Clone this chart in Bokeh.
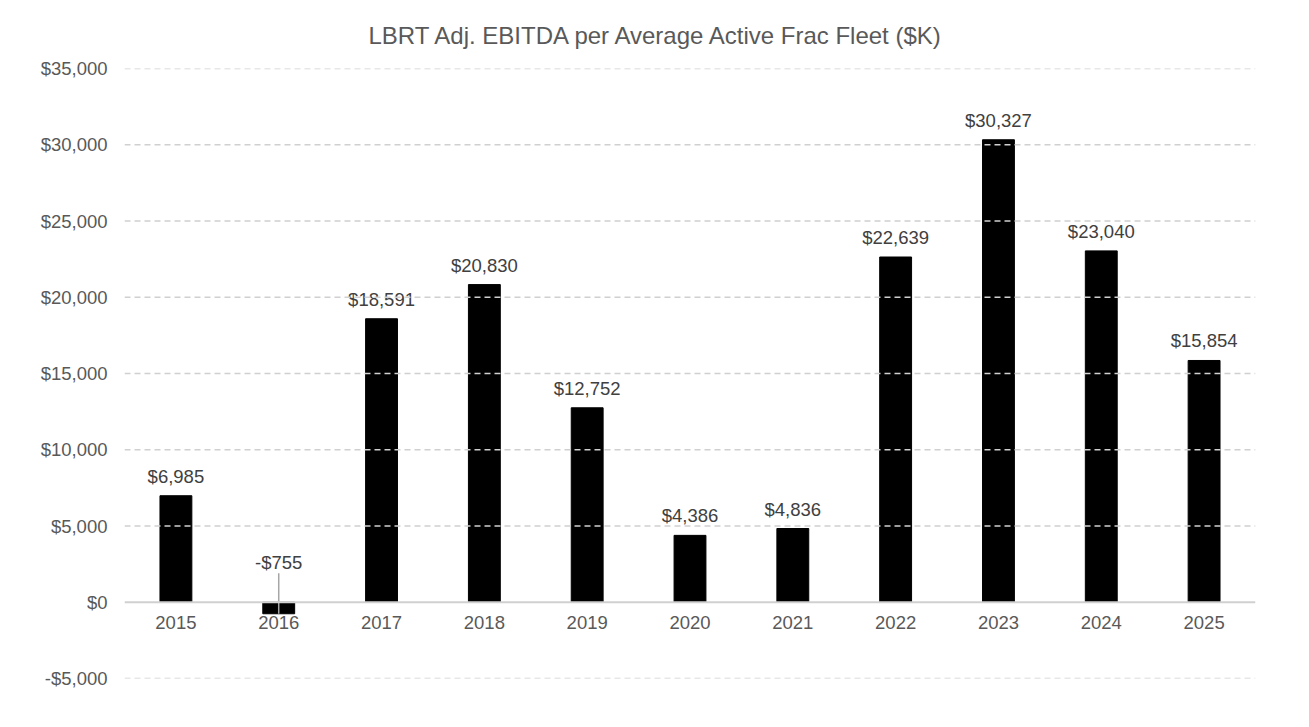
from bokeh.plotting import figure
from bokeh.models import ColumnDataSource, FactorRange, Range1d, Span, FixedTicker, CustomJSTickFormatter
from bokeh.core.properties import value
from bokeh.embed import file_html
from bokeh.resources import INLINE

years = ["2015", "2016", "2017", "2018", "2019", "2020", "2021", "2022", "2023", "2024", "2025"]
ebitda = [6985, -755, 18591, 20830, 12752, 4386, 4836, 22639, 30327, 23040, 15854]
y_ticks = [-5000, 0, 5000, 10000, 15000, 20000, 25000, 30000, 35000]

FONT = "Liberation Sans"
GREY = "#595959"

def fmt(v):
    return ("-$" if v < 0 else "$") + f"{abs(v):,}"

lab_y = [max(v, 0) for v in ebitda]
lab_off = [-9 if v >= 0 else -29 for v in ebitda]

src = ColumnDataSource(dict(year=years, val=ebitda, lab=[fmt(v) for v in ebitda],
                            laby=lab_y, off=lab_off, zero=[0] * len(years)))

p = figure(x_range=FactorRange(*years), y_range=Range1d(-5000, 35000),
           width=1290, height=700, output_backend="svg", toolbar_location=None,
           min_border_left=124, min_border_top=67, min_border_right=35, min_border_bottom=22)
p.outline_line_color = None
p.background_fill_color = "white"

# grid
p.xgrid.grid_line_color = None
p.ygrid.grid_line_color = None
for t in y_ticks:
    if t == 0:
        p.add_layout(Span(location=t, dimension="width", line_color="#d0d0d0", line_width=2))
    else:
        p.add_layout(Span(location=t, dimension="width", line_color="#d0d0d0",
                          line_width=1.5, line_dash="6 4"))

# y axis
p.yaxis.ticker = FixedTicker(ticks=y_ticks)
p.yaxis.formatter = CustomJSTickFormatter(code="""
const a = Math.abs(tick).toLocaleString('en-US');
return (tick < 0 ? '-$' : '$') + a;
""")
p.yaxis.axis_line_color = None
p.yaxis.major_tick_line_color = None
p.yaxis.minor_tick_line_color = None
p.yaxis.major_label_text_font = FONT
p.yaxis.major_label_text_font_size = "18.5px"
p.yaxis.major_label_text_color = GREY
p.yaxis.major_label_standoff = 11

p.xaxis.visible = False

# bars
p.vbar(x="year", top="val", bottom=0, width=0.31, source=src, fill_color="black", line_color="black")

# leader line for negative values
neg = [i for i, v in enumerate(ebitda) if v < 0]
if neg:
    nsrc = ColumnDataSource(dict(year=[years[i] for i in neg], y0=[1900 for i in neg], y1=[ebitda[i] for i in neg]))
    p.segment(x0="year", y0="y0", x1="year", y1="y1", source=nsrc, line_color="#a6a6a6", line_width=1.5)

# data labels
p.text(x="year", y="laby", text="lab", y_offset="off", source=src,
       text_font=value(FONT), text_font_size="18.5px", text_color="#404040",
       text_align="center", text_baseline="bottom")

# category labels
p.text(x="year", y="zero", text="year", source=src, y_offset=14,
       text_font=value(FONT), text_font_size="18.5px", text_color=GREY,
       text_align="center", text_baseline="top")

# title
p.title.text = "LBRT Adj. EBITDA per Average Active Frac Fleet ($K)"
p.title.text_font = FONT
p.title.text_font_size = "24px"
p.title.text_color = GREY
p.title.text_font_style = "normal"
p.title.align = "left"
p.title.offset = 244
p.title.standoff = 39

open("out.html", "w").write(file_html(p, INLINE))
